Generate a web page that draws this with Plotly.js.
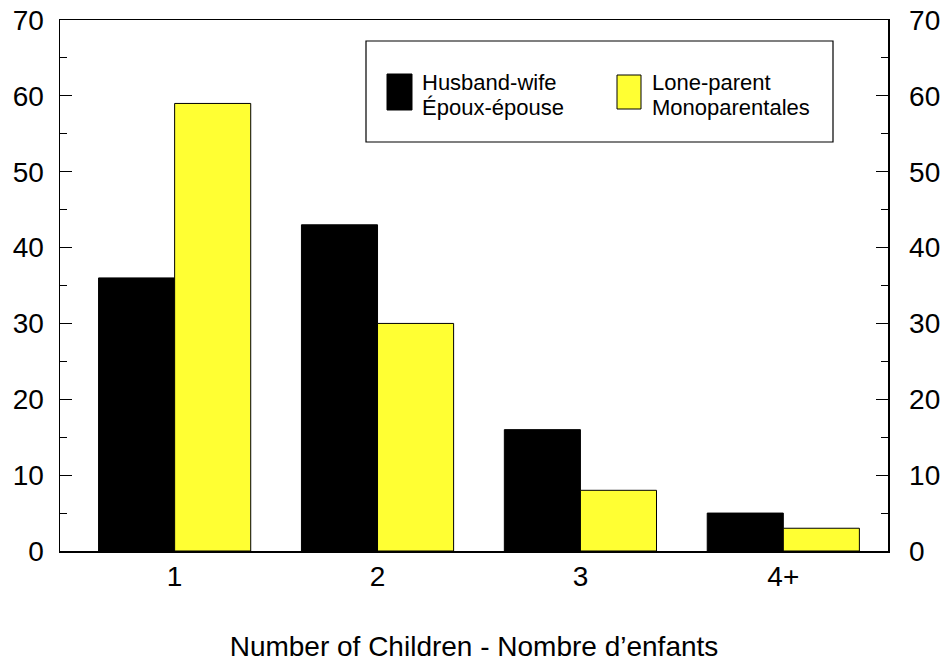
<!DOCTYPE html>
<html>
<head>
<meta charset="utf-8">
<script src="https://cdn.plot.ly/plotly-3.0.1.min.js"></script>
<style>html,body{margin:0;padding:0;background:#fff;}</style>
</head>
<body>
<div id="chart" style="width:945px;height:662px;"></div>
<script>
var categories = ['1', '2', '3', '4+'];
var husbandWife = [36, 43, 16, 5];
var loneParent = [59, 30, 8, 3];
var seriesNames = [['Husband-wife', 'Époux-épouse'], ['Lone-parent', 'Monoparentales']];
var seriesColors = ['#000000', '#ffff33'];
var xTitle = 'Number of Children - Nombre d\u2019enfants';

var font = 'Liberation Sans, Arial, sans-serif';

var traces = [
  {type: 'bar', x: categories, y: husbandWife, name: seriesNames[0].join(' '),
   marker: {color: seriesColors[0], line: {color: '#000', width: 1}}, showlegend: false},
  {type: 'bar', x: categories, y: loneParent, name: seriesNames[1].join(' '),
   marker: {color: seriesColors[1], line: {color: '#000', width: 1}}, showlegend: false},
  {type: 'scatter', mode: 'none', x: categories, y: husbandWife, yaxis: 'y2',
   showlegend: false, hoverinfo: 'skip'}
];

var axisCommon = {
  range: [0, 70], dtick: 10, tick0: 0,
  showline: true, linecolor: '#000', linewidth: 1.5,
  ticks: 'inside', ticklen: 12, tickcolor: '#000', tickwidth: 1,
  minor: {dtick: 5, ticks: 'inside', ticklen: 7, tickcolor: '#000'},
  showgrid: false, zeroline: false, tickfont: {size: 28}
};

var layout = {
  width: 945, height: 662,
  margin: {l: 60, r: 57, t: 20, b: 111},
  paper_bgcolor: '#fff', plot_bgcolor: '#fff',
  barmode: 'group', bargap: 0.25, bargroupgap: 0,
  font: {family: font, size: 28, color: '#000'},
  showlegend: false,
  xaxis: {
    type: 'category', range: [-0.565, 3.516],
    showline: true, linecolor: '#000', linewidth: 1.5, mirror: true,
    ticks: '', showgrid: false, zeroline: false,
    tickfont: {size: 28},
    title: {text: xTitle, font: {size: 28}, standoff: 45}
  },
  yaxis: Object.assign({ticklabelstandoff: 9}, axisCommon),
  yaxis2: Object.assign({overlaying: 'y', side: 'right', ticklabelstandoff: 14}, axisCommon),
  shapes: [
    {type: 'rect', xref: 'paper', yref: 'paper', x0: (366-60)/828, x1: (833-60)/828,
     y0: (551-142)/531, y1: (551-41)/531, line: {color: '#000', width: 1.2}, fillcolor: 'rgba(0,0,0,0)'},
    {type: 'rect', xref: 'paper', yref: 'paper', x0: (387-60)/828, x1: (412-60)/828,
     y0: (551-110)/531, y1: (551-74)/531, line: {color: '#000', width: 1}, fillcolor: seriesColors[0]},
    {type: 'rect', xref: 'paper', yref: 'paper', x0: (617-60)/828, x1: (641-60)/828,
     y0: (551-109)/531, y1: (551-75)/531, line: {color: '#000', width: 1}, fillcolor: seriesColors[1]}
  ],
  annotations: [
    {xref: 'paper', yref: 'paper', x: (420-60)/828, y: (551-82)/531, xanchor: 'left', yanchor: 'middle',
     text: seriesNames[0][0], showarrow: false, font: {size: 22}},
    {xref: 'paper', yref: 'paper', x: (420-60)/828, y: (551-107)/531, xanchor: 'left', yanchor: 'middle',
     text: seriesNames[0][1], showarrow: false, font: {size: 22}},
    {xref: 'paper', yref: 'paper', x: (650-60)/828, y: (551-82)/531, xanchor: 'left', yanchor: 'middle',
     text: seriesNames[1][0], showarrow: false, font: {size: 22}},
    {xref: 'paper', yref: 'paper', x: (650-60)/828, y: (551-107)/531, xanchor: 'left', yanchor: 'middle',
     text: seriesNames[1][1], showarrow: false, font: {size: 22}}
  ]
};

Plotly.newPlot('chart', traces, layout, {displayModeBar: false, staticPlot: true});
</script>
</body>
</html>
